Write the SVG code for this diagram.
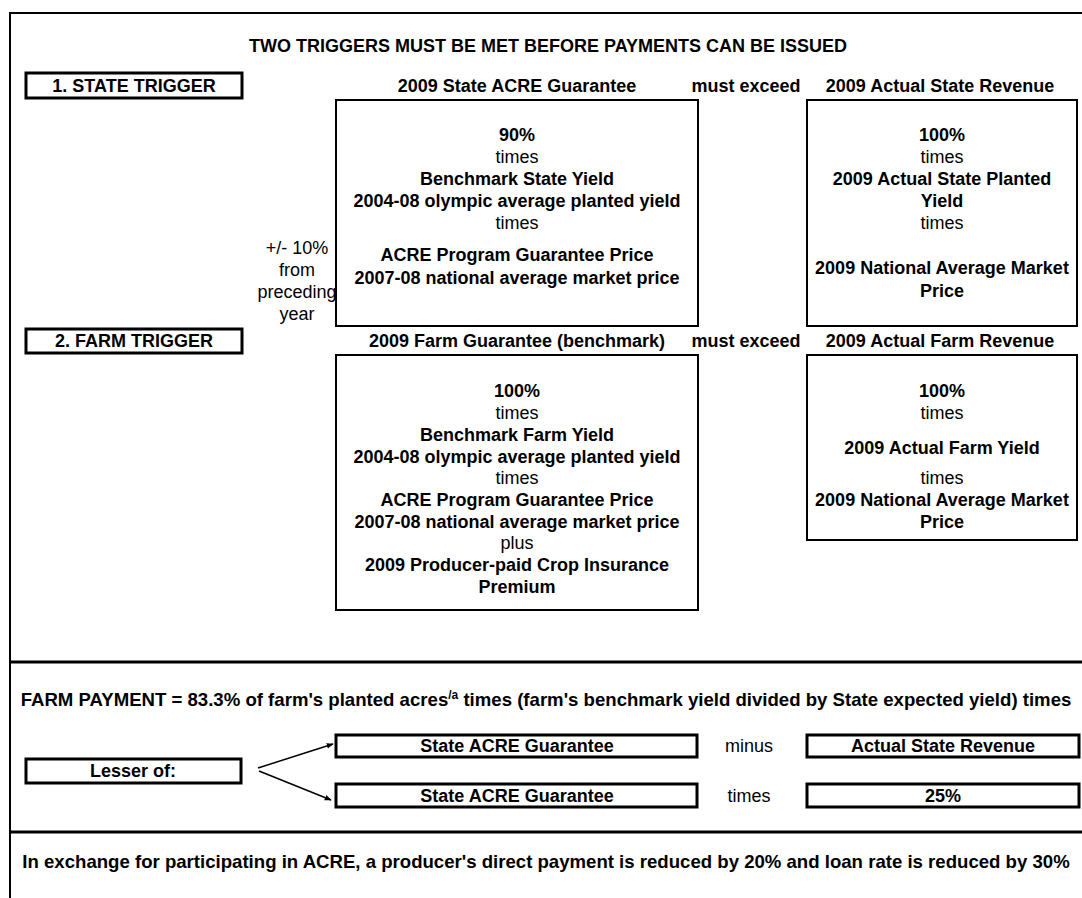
<svg xmlns="http://www.w3.org/2000/svg" width="1082" height="898" viewBox="0 0 1082 898">
<style>
text{font-family:"Liberation Sans",Arial,sans-serif;font-size:18px;fill:#000;text-anchor:middle}
.b{font-weight:bold}
.big{font-size:18.6px}
.box{fill:#fff;stroke:#000;stroke-width:2}
.tbox{fill:#fff;stroke:#000;stroke-width:3}
.sep{stroke:#000;stroke-width:3;fill:none}
.frame{stroke:#000;stroke-width:2;fill:none}
.arr{stroke:#000;stroke-width:1.5;fill:none;marker-end:url(#ah)}
</style>
<defs>
<marker id="ah" viewBox="0 0 10 10" refX="9" refY="5" markerWidth="7" markerHeight="7" orient="auto" markerUnits="userSpaceOnUse">
<path d="M0,1 L10,5 L0,9 z" fill="#000"/>
</marker>
</defs>
<rect width="1082" height="898" fill="#fff"/>
<g id="frame">
<path class="frame" d="M10,898 V13 H1082"/>
<path class="sep" d="M10,662 H1082"/>
<path class="sep" d="M10,832 H1082"/>
</g>
<text class="b" x="548" y="52" font-size="17">TWO TRIGGERS MUST BE MET BEFORE PAYMENTS CAN BE ISSUED</text>
<g id="state-trigger"><rect class="tbox" x="26" y="73" width="216" height="25"/><text class="b" x="134" y="92">1. STATE TRIGGER</text></g>
<text class="b" x="517" y="92">2009 State ACRE Guarantee</text>
<text class="b" x="746" y="92">must exceed</text>
<text class="b" x="940" y="92">2009 Actual State Revenue</text>
<g id="state-guarantee">
<rect class="box" x="336" y="100" width="362" height="226"/>
<text class="b" x="517" y="141">90%</text>
<text x="517" y="163">times</text>
<text class="b" x="517" y="185">Benchmark State Yield</text>
<text class="b" x="517" y="207">2004-08 olympic average planted yield</text>
<text x="517" y="229">times</text>
<text class="b" x="517" y="261">ACRE Program Guarantee Price</text>
<text class="b" x="517" y="284">2007-08 national average market price</text>
</g>
<g id="adjust-note">
<text x="297" y="254">+/- 10%</text>
<text x="297" y="276">from</text>
<text x="297" y="298">preceding</text>
<text x="297" y="320">year</text>
</g>
<g id="state-revenue">
<rect class="box" x="807" y="100" width="270" height="226"/>
<text class="b" x="942" y="141">100%</text>
<text x="942" y="163">times</text>
<text class="b" x="942" y="185">2009 Actual State Planted</text>
<text class="b" x="942" y="207">Yield</text>
<text x="942" y="229">times</text>
<text class="b" x="942" y="274">2009 National Average Market</text>
<text class="b" x="942" y="297">Price</text>
</g>
<g id="farm-trigger"><rect class="tbox" x="26" y="329" width="216" height="24"/><text class="b" x="134" y="347">2. FARM TRIGGER</text></g>
<text class="b" x="517" y="347">2009 Farm Guarantee (benchmark)</text>
<text class="b" x="746" y="347">must exceed</text>
<text class="b" x="940" y="347">2009 Actual Farm Revenue</text>
<g id="farm-guarantee">
<rect class="box" x="336" y="355" width="362" height="255"/>
<text class="b" x="517" y="397">100%</text>
<text x="517" y="419">times</text>
<text class="b" x="517" y="441">Benchmark Farm Yield</text>
<text class="b" x="517" y="463">2004-08 olympic average planted yield</text>
<text x="517" y="484">times</text>
<text class="b" x="517" y="506">ACRE Program Guarantee Price</text>
<text class="b" x="517" y="528">2007-08 national average market price</text>
<text x="517" y="549">plus</text>
<text class="b" x="517" y="571">2009 Producer-paid Crop Insurance</text>
<text class="b" x="517" y="593">Premium</text>
</g>
<g id="farm-revenue">
<rect class="box" x="807" y="355" width="270" height="185"/>
<text class="b" x="942" y="397">100%</text>
<text x="942" y="419">times</text>
<text class="b" x="942" y="454">2009 Actual Farm Yield</text>
<text x="942" y="484">times</text>
<text class="b" x="942" y="506">2009 National Average Market</text>
<text class="b" x="942" y="528">Price</text>
</g>
<text class="b big" x="546" y="706">FARM PAYMENT = 83.3% of farm's planted acres<tspan font-size="12" dy="-7">/a</tspan><tspan dy="7"> times (farm's benchmark yield divided by State expected yield) times</tspan></text>
<g id="lesser"><rect class="tbox" x="26" y="759" width="215" height="24"/><text class="b" x="133" y="777">Lesser of:</text></g>
<g id="guar1"><rect class="tbox" x="336" y="735" width="361" height="22"/><text class="b" x="517" y="752">State ACRE Guarantee</text></g>
<text x="749" y="752">minus</text>
<g id="actual"><rect class="tbox" x="807" y="735" width="272" height="22"/><text class="b" x="943" y="752">Actual State Revenue</text></g>
<g id="guar2"><rect class="tbox" x="336" y="784" width="361" height="23"/><text class="b" x="517" y="802">State ACRE Guarantee</text></g>
<text x="749" y="802">times</text>
<g id="pct"><rect class="tbox" x="807" y="784" width="272" height="23"/><text class="b" x="943" y="802">25%</text></g>
<g id="connectors">
<line class="arr" x1="258" y1="768" x2="333" y2="744"/>
<line class="arr" x1="259" y1="771" x2="331" y2="800"/>
</g>
<text class="b big" x="546" y="868">In exchange for participating in ACRE, a producer's direct payment is reduced by 20% and loan rate is reduced by 30%</text>
</svg>
